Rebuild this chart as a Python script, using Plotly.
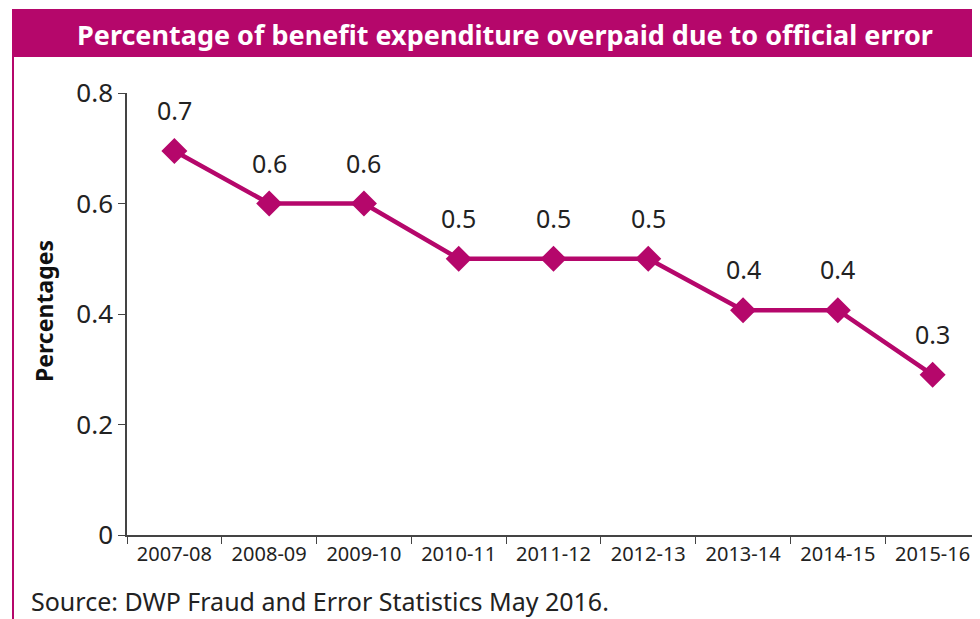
import plotly.graph_objects as go

categories = ["2007-08", "2008-09", "2009-10", "2010-11", "2011-12",
              "2012-13", "2013-14", "2014-15", "2015-16"]
values = [0.695, 0.6, 0.6, 0.5, 0.5, 0.5, 0.407, 0.407, 0.29]
y_ticks = [0, 0.2, 0.4, 0.6, 0.8]
y_tick_labels = ["0", "0.2", "0.4", "0.6", "0.8"]

title_text = "Percentage of benefit expenditure overpaid due to official error"
source_text = "Source: DWP Fraud and Error Statistics May 2016."
MAG = "#B5076B"
FONT = "Noto Sans"

W, H = 980, 619
OFF = 8  # page body margin offset
# plot area in page coordinates: x 127..980, y 93..535
ML = 127 - OFF
MT = 93 - OFF
MR = W - (980 - OFF)
MB = H - (535 - OFF)
PW, PH = W - ML - MR, H - MT - MB


def px(x):
    return (x - OFF - ML) / PW


def py(y):
    return (H - MB - (y - OFF)) / PH


fig = go.Figure()
fig.add_trace(go.Scatter(
    x=categories, y=values, mode="lines+markers",
    line=dict(color=MAG, width=4.5),
    marker=dict(symbol="diamond", size=20, color=MAG),
    hoverinfo="skip", cliponaxis=False,
))

for c, v in zip(categories, values):
    fig.add_annotation(x=c, y=v, text=f"{v:.1f}", showarrow=False,
                       yshift=41, font=dict(family=FONT, size=25, color="#222"))

shapes = [
    dict(type="rect", xref="paper", yref="paper", x0=px(12), x1=px(990),
         y0=py(57), y1=py(9), fillcolor=MAG, line=dict(width=0), layer="above"),
    dict(type="line", xref="paper", yref="paper", x0=px(13), x1=px(13),
         y0=py(57), y1=py(630), line=dict(color=MAG, width=2)),
]

fig.add_annotation(xref="paper", yref="paper", x=px(505), y=py(34),
                   text=f"<b>{title_text}</b>", showarrow=False,
                   xanchor="center", yanchor="middle",
                   font=dict(family=FONT, size=27, color="white"))
fig.add_annotation(xref="paper", yref="paper", x=px(29), y=py(601),
                   text=source_text, showarrow=False,
                   xanchor="left", yanchor="middle",
                   font=dict(family=FONT, size=25, color="#222"))
fig.add_annotation(xref="paper", yref="paper", x=px(44), y=py(311),
                   text="<b>Percentages</b>", showarrow=False, textangle=-90,
                   xanchor="center", yanchor="middle",
                   font=dict(family=FONT, size=23, color="#111"))

fig.update_layout(
    width=W, height=H,
    margin=dict(l=ML, r=MR, t=MT, b=MB),
    paper_bgcolor="white", plot_bgcolor="white",
    showlegend=False, shapes=shapes,
    xaxis=dict(type="category", range=[-0.5, 8.5], showline=True,
               linecolor="#444", linewidth=1.5, ticks="outside",
               tickson="boundaries", ticklen=7, tickcolor="#444",
               showgrid=False, zeroline=False,
               tickfont=dict(family=FONT, size=20, color="#222")),
    yaxis=dict(range=[0, 0.8], tickvals=y_ticks, ticktext=y_tick_labels,
               showline=True, linecolor="#444", linewidth=1.5,
               ticks="outside", ticklen=7, tickcolor="#444",
               showgrid=False, zeroline=False,
               tickfont=dict(family=FONT, size=26, color="#222")),
)

fig.write_html("out.html")
